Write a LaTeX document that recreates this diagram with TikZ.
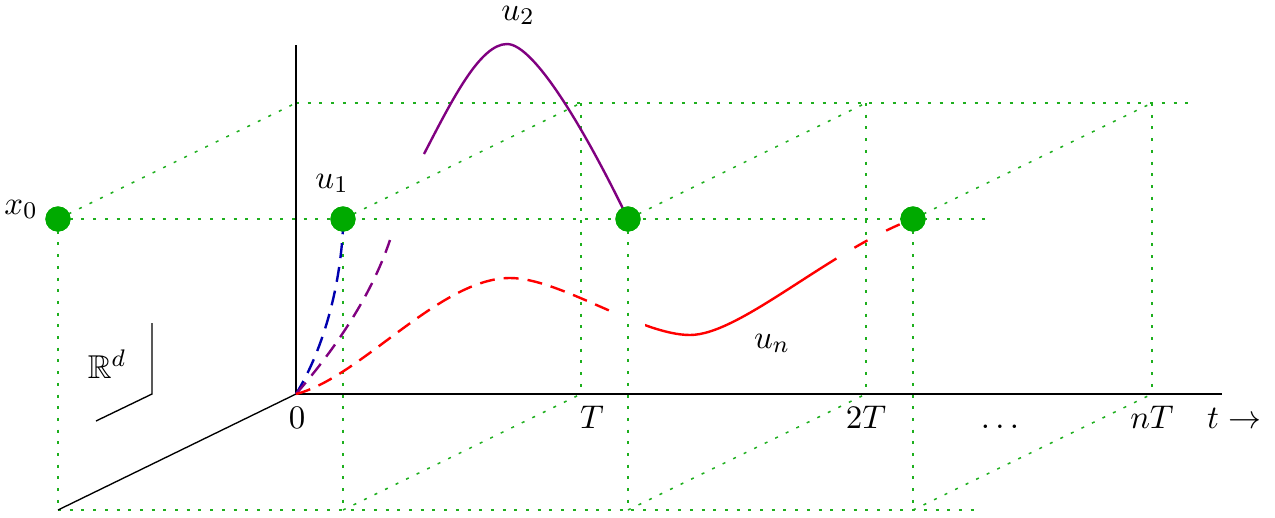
\documentclass[tikz,border=0pt]{standalone}
\usepackage{amssymb}
\definecolor{dotgreen}{RGB}{0,170,0}
\definecolor{gridgreen}{RGB}{30,175,30}
\definecolor{curvered}{RGB}{255,0,0}
\definecolor{curveblue}{RGB}{0,0,175}
\definecolor{curvepurple}{RGB}{128,0,128}
\begin{document}
\begin{tikzpicture}[x=0.33333pt,y=-0.33333pt,
  gridline/.style={draw=gridgreen, line width=0.5pt, dash pattern=on 1pt off 2.9pt},
  gdot/.style={circle, fill=dotgreen, inner sep=0pt, minimum size=8.4pt},
  axisline/.style={draw=black, line width=0.45pt},
  crv/.style={line width=0.8pt},
  dsh/.style={dash pattern=on 5pt off 3pt},
  lbl/.style={inner sep=0pt, anchor=base, font=\fontsize{11}{13}\selectfont}]
\useasboundingbox (0,0) rectangle (1275,517);

% named coordinates
\coordinate (o) at (296,394);
\coordinate (top) at (296,45);
\coordinate (tend) at (1222,394);
\coordinate (dfront) at (58,510);
% back plane tops
\coordinate (b0) at (296,103);
\coordinate (b1) at (581,103);
\coordinate (b2) at (866,103);
\coordinate (b3) at (1152,103);
\coordinate (bend) at (1195,103);
% back plane bottoms
\coordinate (a1) at (581,394);
\coordinate (a2) at (866,394);
\coordinate (a3) at (1152,394);
% front plane bottoms
\coordinate (f0) at (58,510);
\coordinate (f1) at (343,510);
\coordinate (f2) at (628,510);
\coordinate (f3) at (913,510);
\coordinate (fend) at (980,510);
\coordinate (mend) at (985,219);

% dots
\node[gdot] (d0) at (58,219) {};
\node[gdot] (d1) at (343,219) {};
\node[gdot] (d2) at (628,219) {};
\node[gdot] (d3) at (913,219) {};

% grid lines
\draw[gridline] (b0) -- (bend);
\draw[gridline] (d0.center) -- (mend);
\draw[gridline] (f0) -- (fend);
\draw[gridline] (d0.center) -- (b0);
\draw[gridline] (d1.center) -- (b1);
\draw[gridline] (d2.center) -- (b2);
\draw[gridline] (d3.center) -- (b3);
\draw[gridline] (f1) -- (a1);
\draw[gridline] (f2) -- (a2);
\draw[gridline] (f3) -- (a3);
\draw[gridline] (b1) -- (a1);
\draw[gridline] (b2) -- (a2);
\draw[gridline] (b3) -- (a3);
\draw[gridline] (d0.center) -- (f0);
\draw[gridline] (d1.center) -- (f1);
\draw[gridline] (d2.center) -- (f2);
\draw[gridline] (d3.center) -- (f3);

% axes
\draw[axisline] (o) -- (top);
\draw[axisline] (o) -- (tend);
\draw[axisline] (o) -- (dfront);

% R^d bracket
\coordinate (r1) at (152,323);
\coordinate (r2) at (152,394);
\coordinate (r3) at (96,421);
\draw[axisline] (r1) -- (r2) -- (r3);
\node[lbl] (rd) at (107,378) {$\mathbb{R}^d$};

% curves
\draw[crv, curveblue, dsh] (o) .. controls (322,352) and (340,290) .. (343,228);
\draw[crv, curvepurple, dsh] (o) .. controls (330,355) and (370,300) .. (390,240);
\draw[crv, curvepurple] (424,154) .. controls (452,100) and (480,44) .. (507,44)
  .. controls (535,44) and (588,136) .. (d2.center);
\begin{scope}
\clip (0,0) rectangle (612,517);
\draw[crv, curvered, dsh] (o) .. controls (360,378) and (440,278) .. (510,278)
  .. controls (560,278) and (640,335) .. (690,335)
  .. controls (740,335) and (830,250) .. (d3.center);
\end{scope}
\begin{scope}
\clip (645,0) rectangle (826,517);
\draw[crv, curvered] (o) .. controls (360,378) and (440,278) .. (510,278)
  .. controls (560,278) and (640,335) .. (690,335)
  .. controls (740,335) and (830,250) .. (d3.center);
\end{scope}
\begin{scope}
\clip (826,0) rectangle (1275,517);
\draw[crv, curvered, dash pattern=on 0pt off 4pt on 5pt off 3pt] (o) .. controls (360,378) and (440,278) .. (510,278)
  .. controls (560,278) and (640,335) .. (690,335)
  .. controls (740,335) and (830,250) .. (d3.center);
\end{scope}

% redraw dots on top
\node[gdot] at (d0) {};
\node[gdot] at (d1) {};
\node[gdot] at (d2) {};
\node[gdot] at (d3) {};

% labels
\node[lbl] (x0l) at (21,214) {$x_0$};
\node[lbl] (u1l) at (332,188) {$u_1$};
\node[lbl] (u2l) at (518,20) {$u_2$};
\node[lbl] (unl) at (772,348) {$u_n$};
\node[lbl] (l0) at (297,428) {$0$};
\node[lbl] (lT) at (592,428) {$T$};
\node[lbl] (l2T) at (866,428) {$2T$};
\node[lbl] (ldots) at (1000,428) {$\dots$};
\node[lbl] (lnT) at (1152,428) {$nT$};
\node[lbl] (lt) at (1234,428) {$t\rightarrow$};
\end{tikzpicture}
\end{document}
